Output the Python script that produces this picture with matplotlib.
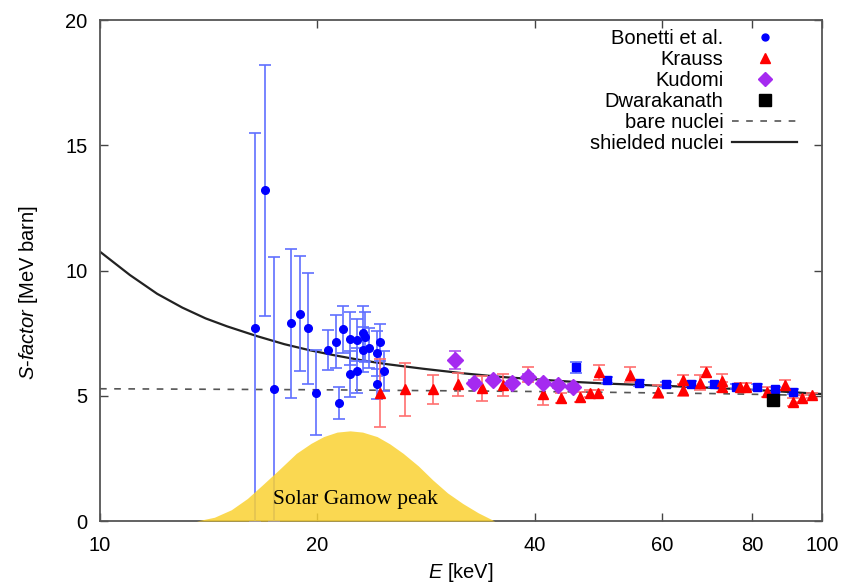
import numpy as np
import matplotlib
matplotlib.use("Agg")
import matplotlib.pyplot as plt
from matplotlib.lines import Line2D
from matplotlib.ticker import FixedLocator, FixedFormatter, NullLocator

plt.rcParams['font.family'] = ['Liberation Sans', 'DejaVu Sans']
plt.rcParams['mathtext.fontset'] = 'custom'
plt.rcParams['mathtext.it'] = 'Liberation Sans:italic'
plt.rcParams['mathtext.rm'] = 'Liberation Sans'

# Bonetti et al. (low energy, circles)
bon_E = [16.4, 16.9, 17.4, 18.4, 18.9, 19.4, 19.9, 20.7, 21.2, 21.4, 21.7, 22.2, 22.2,
         22.7, 22.7, 23.1, 23.1, 23.3, 23.6, 24.2, 24.4, 24.2, 24.7]
bon_S = [7.72, 13.2, 5.27, 7.89, 8.28, 7.69, 5.12, 6.83, 7.16, 4.72, 7.65, 7.28, 5.87,
         7.23, 6.0, 7.49, 6.83, 7.36, 6.89, 6.69, 7.13, 5.46, 6.0]
bon_err = [7.76, 5.0, 5.27, 2.97, 2.3, 2.22, 1.7, 0.8, 1.07, 0.63, 0.93, 1.06, 0.9,
           0.85, 0.9, 1.1, 0.9, 1.0, 0.8, 0.9, 0.75, 0.6, 0.8]

# higher-energy blue points (squares)
bhi_E = [45.7, 50.4, 55.8, 60.8, 65.9, 70.9, 75.9, 81.2, 86.2, 91.3]
bhi_S = [6.13, 5.63, 5.5, 5.46, 5.48, 5.46, 5.36, 5.35, 5.26, 5.16]
bhi_err = [0.23, 0.12, 0.12, 0.1, 0.1, 0.1, 0.1, 0.1, 0.1, 0.1]

# Krauss
kr_E = [24.4, 26.45, 28.9, 31.3, 33.8, 36.1, 39.2, 41.1, 43.5, 46.2, 47.7, 48.9, 49.1, 54.2,
        59.2, 64.1, 64.1, 67.8, 69.0, 72.8, 72.8, 76.9, 78.6, 83.8, 88.9, 91.3, 93.8, 96.8]
kr_S = [5.12, 5.26, 5.26, 5.46, 5.3, 5.43, 5.85, 5.07, 4.92, 4.96, 5.1, 5.1, 5.94, 5.83,
        5.16, 5.63, 5.23, 5.52, 5.94, 5.6, 5.36, 5.36, 5.34, 5.16, 5.43, 4.76, 4.9, 5.03]
kr_err = [1.35, 1.05, 0.57, 0.46, 0.5, 0.42, 0.3, 0.43, 0.2, 0.2, 0.15, 0.15, 0.3, 0.3,
          0.25, 0.2, 0.25, 0.3, 0.2, 0.25, 0.2, 0.15, 0.15, 0.2, 0.2, 0.15, 0.15, 0.1]

# Kudomi
ku_E = [31.0, 33.0, 35.05, 37.2, 39.1, 41.1, 43.1, 45.2]
ku_S = [6.43, 5.52, 5.63, 5.5, 5.76, 5.52, 5.43, 5.36]
ku_err = [0.37, 0.1, 0.1, 0.1, 0.1, 0.1, 0.1, 0.1]

# Dwarakanath
dw_E = [85.6]
dw_S = [4.83]

# model curves
sh_E = [10, 11, 12, 13, 14, 15, 16.5, 18, 19.5, 21, 23, 25, 28, 32, 36, 40, 45, 50, 60, 70, 80, 90, 100]
sh_S = [10.75, 9.82, 9.07, 8.52, 8.09, 7.77, 7.38, 7.06, 6.82, 6.63, 6.42, 6.26, 6.08, 5.89,
        5.75, 5.66, 5.56, 5.49, 5.40, 5.32, 5.24, 5.15, 5.07]
bare_E = [10, 20, 30, 40, 50, 60, 70, 80, 90, 100]
bare_S = [5.28, 5.24, 5.2, 5.17, 5.14, 5.11, 5.09, 5.06, 5.03, 5.0]

# solar Gamow peak outline
gam_E = [13.6, 14.4, 15.2, 16.0, 16.8, 17.7, 18.7, 19.6, 20.4, 21.3, 22.2, 23.1, 24.2,
         25.2, 26.3, 27.6, 28.9, 30.3, 31.8, 33.4, 35.2]
gam_S = [0, 0.15, 0.45, 0.9, 1.45, 2.05, 2.7, 3.1, 3.37, 3.55, 3.6, 3.55, 3.37,
         3.08, 2.7, 2.2, 1.64, 1.12, 0.7, 0.33, 0]

xticks = [10, 20, 40, 60, 80, 100]
yticks = [0, 5, 10, 15, 20]

fig = plt.figure(figsize=(8.42, 5.87), dpi=100)
ax = fig.add_axes([0.1188, 0.1124, 0.8574, 0.8535])

fs = 14.5
ebkw = dict(linestyle='none', elinewidth=1.2, capsize=4.3, capthick=1.2)

ax.plot(bare_E, bare_S, color='#555555', lw=1.2, linestyle=(0, (4, 4.5)), zorder=2)
ax.plot(sh_E, sh_S, color='#222222', lw=1.6, zorder=2)

ax.errorbar(bon_E, bon_S, yerr=bon_err, fmt='o', color='#0000ff', ms=5.5,
            ecolor='#6070ff', zorder=3, **ebkw)
ax.errorbar(bhi_E, bhi_S, yerr=bhi_err, fmt='s', color='#0000ff', ms=6,
            ecolor='#6070ff', zorder=3, **ebkw)
ax.errorbar(kr_E, kr_S, yerr=kr_err, fmt='^', color='#ff0000', ms=7,
            ecolor='#ff7070', zorder=3, **ebkw)
ax.errorbar(ku_E, ku_S, yerr=ku_err, fmt='D', color='#a52af0', ms=8,
            ecolor='#b050f0', zorder=3.5, **ebkw)
ax.plot(dw_E, dw_S, 's', color='black', ms=9, zorder=4)

ax.fill_between(gam_E, 0, gam_S, color='#fad232', alpha=0.85, lw=0, zorder=4.5)
ax.text(22.6, 0.84, 'Solar Gamow peak', family=['Liberation Serif'], fontsize=15.5,
        ha='center', va='center', zorder=5)

ax.set_xscale('log')
ax.set_xlim(10, 100)
ax.set_ylim(0, 20)
ax.xaxis.set_major_locator(FixedLocator(xticks))
ax.xaxis.set_major_formatter(FixedFormatter([str(t) for t in xticks]))
ax.xaxis.set_minor_locator(NullLocator())
ax.set_yticks(yticks)

ax.tick_params(which='both', direction='in', top=True, right=True, length=6,
               width=1.0, color='#444444', labelsize=fs)
ax.tick_params(axis='x', pad=11)
ax.tick_params(axis='y', pad=9)
for sp in ax.spines.values():
    sp.set_color('#555555')
    sp.set_linewidth(1.3)

ax.set_xlabel('$E$ [keV]', fontsize=fs, labelpad=4)
ax.set_ylabel('$S$-$factor$ [MeV barn]', fontsize=fs)
ax.yaxis.set_label_coords(-0.083, 0.457)

# legend: markers only, text right-aligned, key on the right
handles = [
    Line2D([], [], ls='none', marker='o', color='#0000ff', ms=5),
    Line2D([], [], ls='none', marker='^', color='#ff0000', ms=7),
    Line2D([], [], ls='none', marker='D', color='#a52af0', ms=7),
    Line2D([], [], ls='none', marker='s', color='black', ms=8),
    Line2D([], [], color='#555555', lw=1.2, ls=(0, (4, 4.5))),
    Line2D([], [], color='#222222', lw=1.6),
]
labels = ['Bonetti et al.', 'Krauss', 'Kudomi', 'Dwarakanath', 'bare nuclei', 'shielded nuclei']
ax.legend(handles, labels, loc='upper right', bbox_to_anchor=(0.9875, 1.014),
          frameon=False, markerfirst=False, fontsize=fs, handlelength=3.2,
          handletextpad=0.45, labelspacing=0.1, borderaxespad=0.4)

fig.savefig('out.png', dpi=100)
